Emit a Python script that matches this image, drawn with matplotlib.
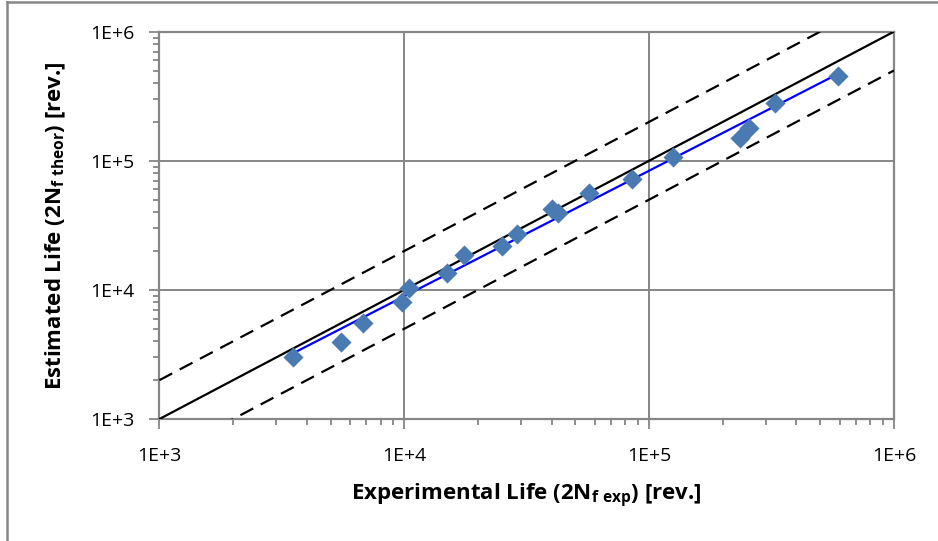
import numpy as np
import matplotlib
matplotlib.use("Agg")
import matplotlib.pyplot as plt
from matplotlib.lines import Line2D
from matplotlib.ticker import FixedLocator, LogLocator, NullFormatter

plt.rcParams['font.family'] = ['Open Sans', 'DejaVu Sans']
plt.rcParams['mathtext.fontset'] = 'custom'
plt.rcParams['mathtext.bf'] = 'Open Sans:bold'
plt.rcParams['mathtext.rm'] = 'Open Sans'

# experimental vs estimated life [rev.]
n_exp = [3500, 5500, 6800, 9800, 10500, 15000, 17500, 25000, 29000,
         40000, 42500, 57000, 85000, 125000, 235000, 256000, 328000, 589000]
n_theor = [3000, 3950, 5500, 8100, 10300, 13600, 18600, 21900, 27000,
           42300, 39400, 56600, 71900, 107700, 151000, 178600, 278700, 454000]

ticks = [1e3, 1e4, 1e5, 1e6]
tick_labels = ['1E+3', '1E+4', '1E+5', '1E+6']

grey = '#868686'

fig = plt.figure(figsize=(9.38, 5.41), dpi=100)
ax = fig.add_axes([0.170, 0.2255, 0.783, 0.716])

# 1:1 line and factor-of-2 band
ref = np.array([1e3, 1e6])
ax.plot(ref, ref, color='black', lw=1.6, zorder=3)
ax.plot(ref, ref * 2, color='black', lw=1.6, ls=(0, (6.5, 3.8)), zorder=3)
ax.plot(ref, ref / 2, color='black', lw=1.6, ls=(0, (6.5, 3.8)), zorder=3)

# power-law fit through the data
lx, ly = np.log10(n_exp), np.log10(n_theor)
b, a = np.polyfit(lx, ly, 1)
fx = np.array([min(n_exp), max(n_exp)])
ax.plot(fx, 10 ** (a + b * np.log10(fx)), color='#0000FF', lw=1.6, zorder=4)

ax.scatter(n_exp, n_theor, marker='D', s=105, color='#4A7AB2', zorder=5,
           linewidths=0)

ax.set_xscale('log')
ax.set_yscale('log')
ax.set_xlim(1e3, 1e6)
ax.set_ylim(1e3, 1e6)

for axis in (ax.xaxis, ax.yaxis):
    axis.set_major_locator(FixedLocator(ticks))
    axis.set_minor_locator(LogLocator(base=10, subs=np.arange(2, 10)))
    axis.set_minor_formatter(NullFormatter())
ax.set_xticklabels(tick_labels)
ax.set_yticklabels(tick_labels)

ax.tick_params(which='major', direction='out', length=7, width=1.3,
               color=grey, labelsize=14)
ax.tick_params(axis='x', which='major', pad=13)
ax.tick_params(axis='y', which='major', pad=11)
ax.tick_params(which='minor', direction='out', length=4, width=1.3,
               color=grey)
ax.tick_params(top=False, right=False, which='both')

ax.grid(True, which='major', color=grey, lw=1.4)
ax.set_axisbelow(True)
for s in ax.spines.values():
    s.set_color(grey)
    s.set_linewidth(1.6)

ax.set_xlabel(r'Experimental Life (2N$_\mathbf{f\ exp}$) [rev.]',
              fontsize=16, fontweight='bold', labelpad=12)
ax.set_ylabel(r'Estimated Life (2N$_\mathbf{f\ theor}$) [rev.]',
              fontsize=16, fontweight='bold', labelpad=16)

# chart-area border (left and top edges only visible)
fig.add_artist(Line2D([0.0075, 0.0075], [0.0, 0.996], color=grey, lw=1.8,
                      transform=fig.transFigure))
fig.add_artist(Line2D([0.0075, 1.0], [0.996, 0.996], color=grey, lw=1.8,
                      transform=fig.transFigure))

fig.savefig('out.png', dpi=100)
